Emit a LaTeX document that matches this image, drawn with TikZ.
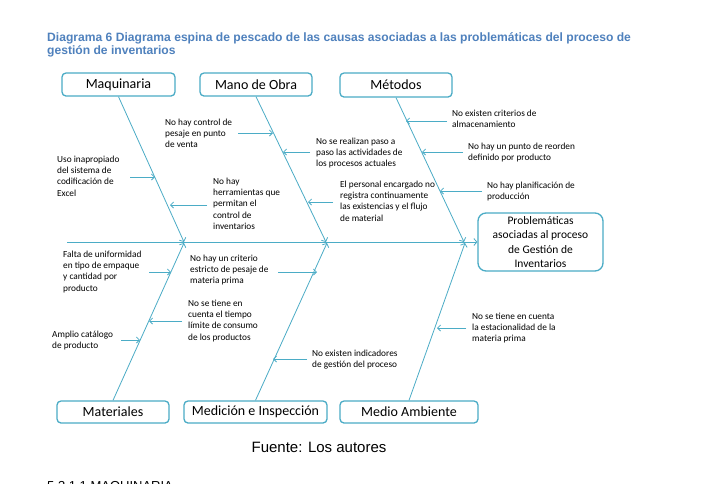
\documentclass[tikz,border=0pt]{standalone}
\usepackage{fontspec}
\setmainfont{Carlito}
\newfontfamily\arialf{Liberation Sans}
\usetikzlibrary{arrows.meta}
\definecolor{aqua}{HTML}{4BACC6}
\definecolor{titleblue}{HTML}{4F81BD}
\begin{document}
\begin{tikzpicture}[x=1pt,y=-1pt,
  cat/.style={draw=aqua, line width=1.3pt, rounded corners=4pt, inner sep=0pt,
    font=\fontsize{14}{16}\selectfont},
  cause/.style={anchor=north west, align=left, inner sep=0pt,
    font=\fontsize{9.3}{11.3}\selectfont},
  bone/.style={draw=aqua, line width=0.8pt, -{Straight Barb[length=3pt,width=7pt]}},
  sub/.style={draw=aqua, line width=0.8pt, -{Straight Barb[length=3pt,width=6pt]}}]
\fill[white] (0,0) rectangle (705,483);
\useasboundingbox (0,0) rectangle (705,483);

% title
\node[anchor=north west, align=left, inner sep=0pt, text=titleblue,
  font=\arialf\bfseries\fontsize{12.1}{13.2}\selectfont] (title) at (47,32.5)
  {Diagrama 6 Diagrama espina de pescado de las causas asociadas a las problemáticas del proceso de\\gestión de inventarios};

% category boxes
\node[cat, minimum width=113pt, minimum height=23pt] (maq) at (118.5,84.5) {Maquinaria};
\node[cat, minimum width=112pt, minimum height=23pt] (mano) at (256,84.5) {Mano de Obra};
\node[cat, minimum width=112pt, minimum height=24pt] (met) at (396,85) {Métodos};
\node[cat, minimum width=112pt, minimum height=22pt] (mat) at (113,412) {Materiales};
\node[cat, minimum width=143pt, minimum height=22pt] (med) at (255.5,412) {Medición e Inspección};
\node[cat, minimum width=138pt, minimum height=22pt] (amb) at (409,412) {Medio Ambiente};
\node[cat, rounded corners=8pt, minimum width=125pt, minimum height=58pt, align=center,
  font=\fontsize{11.5}{14.3}\selectfont] (eff) at (540.5,242)
  {Problemáticas\\asociadas al proceso\\de Gestión de\\Inventarios};

% spine
\coordinate (tail) at (67,242);
\draw[bone] (tail) -- (eff.west);

% bones
\coordinate (j1) at (184,242);
\coordinate (j2) at (326,242);
\coordinate (j3) at (464,242);
\coordinate (k1) at (184,243);
\coordinate (k2) at (327,243);
\coordinate (k3) at (465,243);
\draw[bone] (maq.south) -- (j1);
\draw[bone] (mano.south) -- (j2);
\draw[bone] (met.south) -- (j3);
\draw[bone] (mat.north) -- (k1);
\draw[bone] (med.north) -- (k2);
\draw[bone] (amb.north) -- (k3);

% causes
\node[cause] (c1) at (165,118.5) {No hay control de\\pesaje en punto\\de venta};
\node[cause] (c2) at (57,155.5) {Uso inapropiado\\del sistema de\\codificación de\\Excel};
\node[cause] (c3) at (213,177.5) {No hay\\herramientas que\\permitan el\\control de\\inventarios};
\node[cause] (c4) at (316,137.5) {No se realizan paso a\\paso las actividades de\\los procesos actuales};
\node[cause] (c5) at (340,180.5) {El personal encargado no\\registra continuamente\\las existencias y el flujo\\de material};
\node[cause] (c6) at (452,109.5) {No existen criterios de\\almacenamiento};
\node[cause] (c7) at (468,142.5) {No hay un punto de reorden\\definido por producto};
\node[cause] (c8) at (487,181.5) {No hay planificación de\\producción};
\node[cause] (c9) at (63,250.5) {Falta de uniformidad\\en tipo de empaque\\y cantidad por\\producto};
\node[cause] (c10) at (190,254.5) {No hay un criterio\\estricto de pesaje de\\materia prima};
\node[cause] (c11) at (188,299.5) {No se tiene en\\cuenta el tiempo\\límite de consumo\\de los productos};
\node[cause] (c12) at (52,330.5) {Amplio catálogo\\de producto};
\node[cause] (c13) at (312,349.5) {No existen indicadores\\de gestión del proceso};
\node[cause] (c14) at (472,312.5) {No se tiene en cuenta\\la estacionalidad de la\\materia prima};

% cause arrows
\coordinate (a1s) at (238,133); \coordinate (a1e) at (273,133);
\coordinate (a2s) at (130,177); \coordinate (a2e) at (155,177);
\coordinate (a3s) at (207,205); \coordinate (a3e) at (170,205);
\coordinate (a4s) at (310,152); \coordinate (a4e) at (283,152);
\coordinate (a5s) at (333,202); \coordinate (a5e) at (308,202);
\coordinate (a6s) at (447,121); \coordinate (a6e) at (406,121);
\coordinate (a7s) at (463,152); \coordinate (a7e) at (422,152);
\coordinate (a8s) at (482,191); \coordinate (a8e) at (440,191);
\coordinate (a9s) at (149,272); \coordinate (a9e) at (171,272);
\coordinate (a10s) at (278,272); \coordinate (a10e) at (317,272);
\coordinate (a11s) at (182,321); \coordinate (a11e) at (149,321);
\coordinate (a12s) at (121,340); \coordinate (a12e) at (140,340);
\coordinate (a13s) at (307,359); \coordinate (a13e) at (273,359);
\coordinate (a14s) at (466,328); \coordinate (a14e) at (437,328);
\foreach \i in {1,...,14} {\draw[sub] (a\i s) -- (a\i e);}

% caption
\node[font=\arialf\fontsize{15}{17}\selectfont, inner sep=0pt] (src) at (319,447) {Fuente: Los autores};
\node[anchor=base west, font=\arialf\fontsize{13}{15}\selectfont, inner sep=0pt] (sec) at (47,490) {5.3.1.1 MAQUINARIA};
\end{tikzpicture}
\end{document}
